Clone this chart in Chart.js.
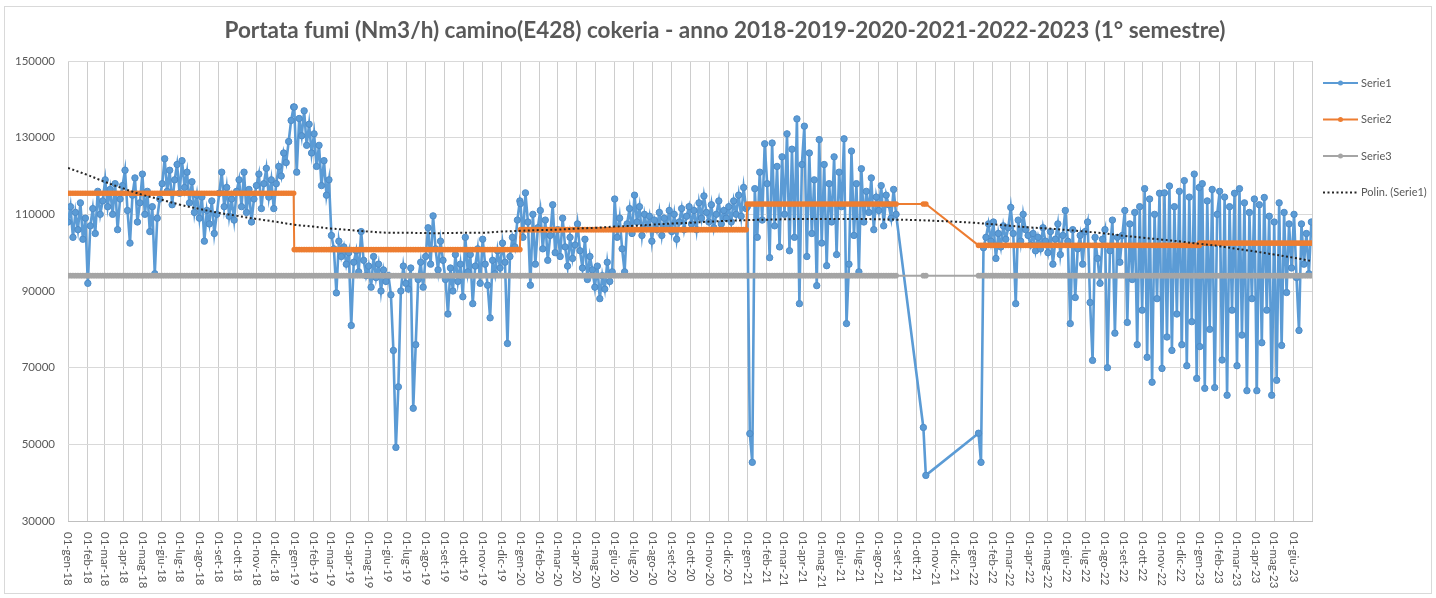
<!DOCTYPE html>
<html lang="it">
<head>
<meta charset="utf-8">
<title>Portata fumi camino E428 cokeria</title>
<script src="https://cdn.jsdelivr.net/npm/chart.js@4/dist/chart.umd.min.js"></script>
<style>
  html, body { margin: 0; padding: 0; background: #fff; }
  #wrap { width: 1436px; height: 598px; }
</style>
</head>
<body>
<div id="wrap"><canvas id="chart" width="1436" height="598"></canvas></div>
<script>
// ---------------------- Data ----------------------
const TITLE = 'Portata fumi (Nm3/h) camino(E428) cokeria - anno 2018-2019-2020-2021-2022-2023 (1° semestre)';
const SERIES_NAMES = ['Serie1', 'Serie2', 'Serie3', 'Polin. (Serie1)'];
const MONTHS = ['gen', 'feb', 'mar', 'apr', 'mag', 'giu', 'lug', 'ago', 'set', 'ott', 'nov', 'dic'];
const Y_TICKS = [30000, 50000, 70000, 90000, 110000, 130000, 150000];
const YEARS = [2018, 2019, 2020, 2021, 2022, 2023];
const STEP = 4; // days between two samples of Serie1 (null = no data)

// Serie1, one value every 4 days from 1 January of each year
const serie1_2018 = [
  108000, 112000, 104000, 110500, 106000, 113000, 103500, 109000,
  92000, 107000, 111500, 105000, 116000, 110000, 113500,
  119000, 112000, 116500, 110000, 118000, 106000, 114000, 117500,
  121500, 111000, 102500, 115000, 119500, 108000, 113000,
  120500, 110000, 116000, 105500, 112000, 94500, 109000, 114000,
  118000, 124500, 116000, 121500, 112500, 119000, 123000, 115500,
  124000, 117000, 121000, 113000, 118500, 110500, 115000,
  109000, 114500, 103000, 111000, 107500, 113500, 105000, 110000,
  115500, 121000, 112000, 117000, 109500, 114000, 108500, 116000,
  119000, 112000, 121000, 110500, 116500, 108000, 114000,
  117500, 120500, 111500, 118000, 122000, 114500, 119000, 111500,
  118000, 122500, 120000, 126000, 123500, 129000, 134500, 138000
];
const serie1_2019 = [
  138000, 121000, 135000, 130500, 137000, 128000, 133500, 126000,
  131000, 122500, 128000, 117500, 124000, 115000, 119000,
  104500, 101000, 89500, 103000, 99000, 101500, 97000, 100000,
  81000, 97500, 100500, 95000, 105500, 98000, 94000,
  96500, 91000, 99000, 93500, 97000, 90000, 95500, 92500,
  94000, 89000, 74500, 49200, 65000, 90000, 96500, 92000,
  90500, 96000, 59400, 76000, 93000, 97500, 91000,
  99000, 106500, 97000, 109600, 101000, 95500, 103000, 98000,
  93000, 84000, 96000, 90000, 99500, 92500, 97000, 88500,
  104000, 95000, 99500, 86700, 96500, 101000, 92000,
  103500, 97000, 91500, 83000, 98000, 94500, 100500, 96000,
  102500, 97500, 76300, 99000, 104000, 101500, 108500, 113500
];
const serie1_2020 = [
  112800, 104000, 115600, 108000, 91500, 110000, 97000, 106500,
  111000, 101000, 108500, 98000, 104500, 112500, 100000,
  106000, 99000, 109000, 101500, 96500, 104000, 98500, 102000,
  107500, 100500, 96000, 103500, 93000, 99000, 95500,
  91000, 96500, 88000, 94000, 90500, 97500, 92500, 95000,
  114000, 104000, 109000, 101000, 95000, 107500, 111500, 105000,
  115000, 108000, 112000, 104500, 110000, 106500, 109500,
  103000, 108500, 106000, 110500, 104500, 109000, 107000, 111000,
  105500, 110000, 103500, 108000, 111500, 106000, 109500, 112000,
  107500, 111000, 106000, 113000, 109000, 114800, 110500,
  108000, 112500, 106500, 110000, 113500, 107500, 111000, 109000,
  112000, 108000, 113500, 110000, 115000, 109500, 117000, 111500
];
const serie1_2021 = [
  112000, 52800, 45300, 116700, 104000, 121000, 108500, 128400,
  118000, 98700, 128600, 107000, 122500, 101500, 125000,
  110000, 131000, 100500, 127000, 104000, 134900, 86700, 123000,
  133000, 99000, 126000, 105000, 119000, 91400, 129500,
  102500, 123000, 96600, 118000, 108000, 125000, 99500, 121000,
  112000, 129700, 81500, 97000, 126500, 104500, 118000, 95000,
  121900, 108000, 116000, 110500, 119500, 106000, 114500,
  111000, 117500, 107000, 115000, 112500, 109000, 116500, 110000,
  null, null, null, null, null, null, null, null,
  null, null, 54400, 41900, null, null, null,
  null, null, null, null, null, null, null, null,
  null, null, null, null, null, null, null, null
];
const serie1_2022 = [
  null, null, 52900, 45300, 101300, 104000, 107500, 103000,
  108000, 98500, 105000, 101500, 107000, 103500, 106500,
  111800, 105000, 86700, 108500, 103000, 110000, 106000, 104500,
  102000, 105000, 100500, 104000, 101000, 106500, 103000,
  100000, 105500, 97000, 103500, 107500, 99500, 104500, 111000,
  103000, 81500, 106000, 88300, 101000, 104500, 97000, 105500,
  108000, 87000, 71900, 104000, 98500, 92000, 103500,
  106000, 70000, 100500, 108500, 79000, 104000, 97500, 104500,
  111000, 81800, 107500, 93000, 110500, 76000, 112000, 85000,
  116700, 72700, 114000, 66200, 110000, 88000, 115500,
  69800, 115600, 78000, 117400, 74500, 112000, 84000, 116000,
  76000, 118800, 70500, 114500, 82000, 120500, 67200, 117000
];
const serie1_2023 = [
  75500, 118000, 64600, 113500, 80000, 116500, 64800, 110000,
  116000, 72000, 114500, 62800, 112000, 85000, 115500,
  70500, 116700, 78500, 113000, 64000, 110500, 88000, 114000,
  64000, 112500, 76500, 114400, 85000, 109500, 62800,
  108000, 66700, 113000, 75800, 110500, 89600, 107500, 96000,
  110000, 93500, 79700, 107500, 97000, 105000, 94500, 108000
];
const serie1ByYear = [serie1_2018, serie1_2019, serie1_2020, serie1_2021, serie1_2022, serie1_2023];

// Serie2: one level per year; Serie3: flat level
const serie2Levels = [115500, 100800, 106000, 112700, 101900, 102500];
const serie3Level = 94000;

// polynomial trend of Serie1, read at each 1st of month (gen-18 .. lug-23)
const trendValues = [
  122100, 120300, 118500, 116700, 115100, 113800, 112500, 111400, 110400, 109600, 108800, 108100,
  107300, 106800, 106300, 105900, 105500, 105200, 105200, 105100, 105100, 105200, 105200, 105500,
  105700, 105900, 106000, 106300, 106500, 106800, 107000, 107300, 107600, 107800, 108100, 108300,
  108500, 108600, 108700, 108800, 108800, 108800, 108800, 108700, 108600, 108500, 108300, 108100,
  107800, 107400, 107000, 106600, 106300, 105900, 105500, 105000, 104400, 103900, 103400, 102900,
  102300, 101700, 101000, 100300, 99500, 98700, 97800
];
// ---------------------------------------------------------------------------

const ORIGIN = Date.UTC(2018, 0, 1);
const dayOf = (y, m, d) => (Date.UTC(y, m, d) - ORIGIN) / 86400000;

// month gridlines: 01-gen-18 ... 01-lug-23 (last one has no label)
const monthTicks = [];
for (let i = 0; i < trendValues.length; i++) {
  const y = 2018 + Math.floor(i / 12), m = i % 12;
  monthTicks.push({
    value: dayOf(y, m, 1),
    label: i < trendValues.length - 1 ? `01-${MONTHS[m]}-${String(y).slice(2)}` : ''
  });
}
const X_MAX = monthTicks[monthTicks.length - 1].value;

const s1 = [], s2 = [], s3 = [];
YEARS.forEach((yr, k) => {
  const start = dayOf(yr, 0, 1);
  serie1ByYear[k].forEach((v, i) => {
    if (v === null) return;
    const x = start + i * STEP;
    s1.push({ x, y: v });
    s2.push({ x, y: serie2Levels[k] });
    s3.push({ x, y: serie3Level });
  });
});
const trend = trendValues.map((v, i) => ({ x: monthTicks[i].value, y: v }));

const COLORS = ['#5B9BD5', '#ED7D31', '#A5A5A5', '#262626'];
const TEXT = '#595959';

// Excel-like x labels (rotated clockwise), legend and outer frame
const excelLook = {
  id: 'excelLook',
  afterDraw(chart) {
    const { ctx, chartArea: a, scales: { x } } = chart;
    ctx.save();
    ctx.font = '11.5px Lato';
    ctx.fillStyle = TEXT;
    ctx.textAlign = 'left';
    ctx.textBaseline = 'middle';
    for (const t of monthTicks) {
      if (!t.label) continue;
      ctx.save();
      ctx.translate(x.getPixelForValue(t.value), a.bottom + 11);
      ctx.rotate(Math.PI / 2);
      ctx.fillText(t.label, 0, 0);
      ctx.restore();
    }

    // legend on the right
    chart.data.datasets.forEach((ds, i) => {
      const y = a.top + 22 + i * 36.5;
      const x0 = a.right + 11, x1 = x0 + 35;
      ctx.strokeStyle = ds.borderColor;
      ctx.lineWidth = 2;
      ctx.setLineDash(ds.borderDash || []);
      ctx.beginPath();
      ctx.moveTo(x0, y);
      ctx.lineTo(x1, y);
      ctx.stroke();
      ctx.setLineDash([]);
      if (ds.pointRadius) {
        ctx.fillStyle = ds.borderColor;
        ctx.beginPath();
        ctx.arc((x0 + x1) / 2, y, 2.5, 0, Math.PI * 2);
        ctx.fill();
      }
      ctx.fillStyle = TEXT;
      ctx.font = '11px Lato';
      ctx.fillText(ds.label, x1 + 3, y);
    });

    ctx.strokeStyle = '#d9d9d9';
    ctx.lineWidth = 1;
    ctx.strokeRect(4.5, 6.5, 1427, 587);
    ctx.restore();
  }
};

new Chart(document.getElementById('chart'), {
  type: 'line',
  data: {
    datasets: [
      { label: SERIES_NAMES[0], data: s1, borderColor: COLORS[0], backgroundColor: COLORS[0],
        borderWidth: 2.6, pointRadius: 3.2, pointBorderWidth: 1, pointBorderColor: '#4f8cc7',
        pointBackgroundColor: COLORS[0], order: 3 },
      { label: SERIES_NAMES[1], data: s2, borderColor: COLORS[1], backgroundColor: COLORS[1],
        borderWidth: 2, pointRadius: 2.8, pointBorderWidth: 0, pointBackgroundColor: COLORS[1], order: 2 },
      { label: SERIES_NAMES[2], data: s3, borderColor: COLORS[2], backgroundColor: COLORS[2],
        borderWidth: 2, pointRadius: 2.8, pointBorderWidth: 0, pointBackgroundColor: COLORS[2], order: 1 },
      { label: SERIES_NAMES[3], data: trend, borderColor: COLORS[3], borderWidth: 2,
        borderDash: [2, 2.5], pointRadius: 0, tension: 0.4, order: 0 }
    ]
  },
  options: {
    responsive: false,
    animation: false,
    events: [],
    layout: { padding: { left: 14, right: 0, top: 0, bottom: 0 } },
    plugins: {
      legend: { display: false },
      tooltip: { enabled: false },
      title: {
        display: true,
        text: TITLE,
        color: TEXT,
        font: { family: 'Lato', size: 22.5, weight: 'bold' },
        padding: { top: 17, bottom: 17 }
      }
    },
    scales: {
      x: {
        type: 'linear',
        min: 0,
        max: X_MAX,
        afterBuildTicks: s => { s.ticks = monthTicks.map(t => ({ value: t.value })); },
        afterFit: s => { s.height = 77; },
        ticks: { display: false },
        grid: { color: '#cdcdcd', drawTicks: false },
        border: { display: true, color: '#bfbfbf' }
      },
      y: {
        min: 30000,
        max: 150000,
        afterBuildTicks: s => { s.ticks = Y_TICKS.map(v => ({ value: v })); },
        afterFit: s => { s.width = 54; },
        ticks: { callback: v => String(v), color: TEXT, padding: 13, font: { family: 'Lato', size: 11.5 } },
        grid: { color: '#d9d9d9', drawTicks: false },
        border: { display: false }
      },
      yRight: {
        position: 'right',
        display: true,
        afterFit: s => { s.width = 124; },
        ticks: { display: false },
        grid: { display: false, drawTicks: false },
        border: { display: false }
      }
    }
  },
  plugins: [excelLook]
});
</script>
</body>
</html>
